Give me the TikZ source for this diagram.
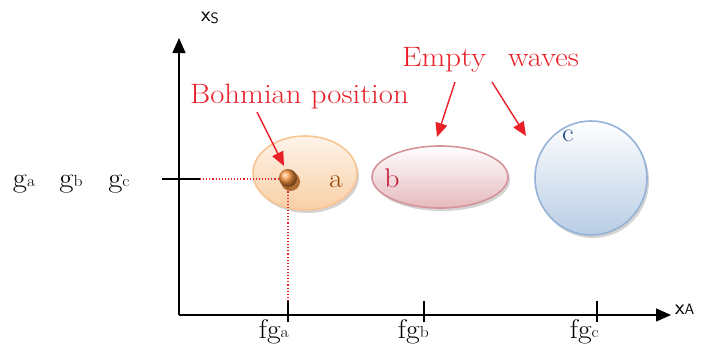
\documentclass[tikz,border=0pt]{standalone}
\usepackage{fontspec}
\setmainfont{Latin Modern Roman}[FakeStretch=1.1]
\usetikzlibrary{arrows.meta,shapes.geometric,shadows}
\definecolor{redtxt}{RGB}{232,32,40}
\definecolor{abr}{RGB}{152,72,7}
\definecolor{bred}{RGB}{192,20,50}
\definecolor{cblue}{RGB}{31,73,125}
\begin{document}
\begin{tikzpicture}[x=1pt,y=-1pt,
  axis/.style={line width=1.3pt,-{Triangle[length=15pt,width=13pt]}},
  tickline/.style={line width=1.3pt},
  redarrow/.style={redtxt,line width=1.4pt,-{Triangle[length=14pt,width=12pt]}},
  reddot/.style={redtxt,dotted,line width=1.1pt},
  lbl/.style={font=\fontsize{28}{30}\selectfont,text=redtxt,inner sep=0pt},
  glbl/.style={font=\fontsize{28}{30}\selectfont,inner sep=0pt,anchor=base},
  flbl/.style={font=\fontsize{27}{29}\selectfont,inner sep=0pt,anchor=base east},
  blob/.style={ellipse,draw,line width=1.6pt,inner sep=0pt,
    drop shadow={shadow xshift=2pt,shadow yshift=-3pt,opacity=0.35}}
]
\useasboundingbox (0,0) rectangle (703,357);
% ellipses
\node[blob,minimum width=104pt,minimum height=74pt,draw={rgb,255:red,248;green,196;blue,148},
  top color={rgb,255:red,254;green,244;blue,234},bottom color={rgb,255:red,249;green,207;blue,165}] (ea) at (305,173) {};
\node[blob,minimum width=136pt,minimum height=62pt,draw={rgb,255:red,212;green,148;blue,154},
  top color=white,bottom color={rgb,255:red,230;green,185;blue,190}] (eb) at (440,177) {};
\node[blob,minimum width=112pt,minimum height=114pt,draw={rgb,255:red,149;green,179;blue,215},
  top color=white,bottom color={rgb,255:red,185;green,205;blue,229}] (ec) at (591,178) {};
% axes
\coordinate (O) at (179,315);
\coordinate (ytop) at (179,38);
\coordinate (xend) at (671,315);
\draw[axis] (O) -- (ytop);
\draw[axis] (O) -- (xend);
\node[font=\sffamily\fontsize{22}{24}\selectfont,anchor=base west,inner sep=0pt] (xs) at (201,21) {x\raisebox{-2pt}{\fontsize{15}{15}\selectfont S}};
\node[font=\sffamily\fontsize{22}{24}\selectfont,anchor=base west,inner sep=0pt] (xa) at (675,314) {x\fontsize{15}{15}\selectfont A};
% y tick
\coordinate (yt1) at (162,179);
\coordinate (yt2) at (200,179);
\draw[tickline] (yt1) -- (yt2);
% x ticks
\foreach \n/\x in {a/288,b/424,c/597}{
  \coordinate (t\n1) at (\x,301);
  \coordinate (t\n2) at (\x,322);
  \draw[tickline] (t\n1) -- (t\n2);
}
% g labels
\node[glbl] (ga) at (24,187) {g\raisebox{1pt}{\fontsize{16}{16}\selectfont a}};
\node[glbl] (gb) at (71,187) {g\raisebox{1pt}{\fontsize{16}{16}\selectfont b}};
\node[glbl] (gc) at (119,187) {g\raisebox{1pt}{\fontsize{16}{16}\selectfont c}};
% fg labels
\node[flbl] (fga) at (289,338) {fg\raisebox{1pt}{\fontsize{16}{16}\selectfont a}};
\node[flbl] (fgb) at (429,338) {fg\raisebox{1pt}{\fontsize{16}{16}\selectfont b}};
\node[flbl] (fgc) at (599,338) {fg\raisebox{1pt}{\fontsize{16}{16}\selectfont c}};
% dotted lines
\coordinate (dp) at (288,179);
\draw[reddot] (yt2) -- (dp);
\draw[reddot] (dp) -- (ta1);
% Bohmian dot
\fill[abr,opacity=0.75] (290.5,181.5) circle (9.5pt);
\node[circle,minimum size=18pt,inner sep=0pt,shading=ball,ball color={rgb,255:red,248;green,150;blue,60}] (dot) at (288,178) {};
% ellipse labels
\node[font=\fontsize{27}{29}\selectfont,text=abr,anchor=base,inner sep=0pt] (la) at (336,187) {a};
\node[font=\fontsize{27}{29}\selectfont,text=bred,anchor=base,inner sep=0pt] (lb) at (392,187) {b};
\node[font=\fontsize{26}{28}\selectfont,text=cblue,anchor=base,inner sep=0pt] (lc) at (568,141) {c};
% red texts
\node[lbl,anchor=base west] (bohm) at (190,103) {Bohmian position};
\node[lbl,anchor=base west] (empty) at (402,66) {Empty\hspace{22pt}waves};
% arrows
\coordinate (b0) at (257,112);
\coordinate (b1) at (284,166);
\coordinate (e10) at (455,82);
\coordinate (e11) at (437,137);
\coordinate (e20) at (492,82);
\coordinate (e21) at (526,136);
\draw[redarrow] (b0) -- (b1);
\draw[redarrow] (e10) -- (e11);
\draw[redarrow] (e20) -- (e21);
\end{tikzpicture}
\end{document}
